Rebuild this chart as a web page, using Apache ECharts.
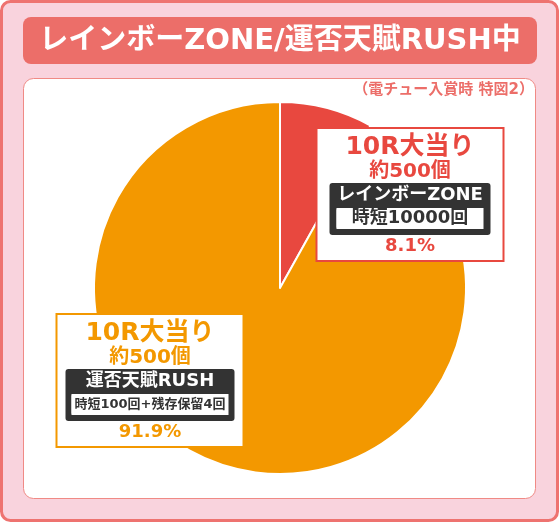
<!DOCTYPE html>
<html><head><meta charset="utf-8">
<script src="https://cdn.jsdelivr.net/npm/echarts@6/dist/echarts.min.js"></script>
<style>html,body{margin:0;padding:0;background:#fff}#c{width:560px;height:523px}</style>
</head><body><div id="c"></div>
<script>
// ---- data ----
const titleText = 'レインボーZONE/運否天賦RUSH中';
const subtitleText = '（電チュー入賞時 特図2）';
const categories = ['レインボーZONE', '運否天賦RUSH'];
const values = [8.1, 91.9];
const jackpotLabels = ['10R大当り', '10R大当り'];
const payoutLabels = ['約500個', '約500個'];
const timeLabels = ['時短10000回', '時短100回+残存保留4回'];
const colors = ['#E8483F', '#F39800'];

// ---- style / layout ----
const FONT = "'DejaVu Sans', 'Noto Sans CJK JP', sans-serif";
const DARK = '#333333';
const labelSpec = [
  { x: 410, y: 129, dark: 161, inner: 147, timeSize: 18, padX: 12 },
  { x: 150, y: 315, dark: 169, inner: 157, timeSize: 13, padX: 8 }
];

function richFor(i) {
  const s = labelSpec[i], c = colors[i];
  const side = (s.dark - s.inner) / 2;
  return {
    big: { fontFamily: FONT, fontWeight: 'bold', fontSize: 25, color: c, lineHeight: 28, align: 'center' },
    mid: { fontFamily: FONT, fontWeight: 'bold', fontSize: 20, color: c, lineHeight: 22, align: 'center' },
    head: { fontFamily: FONT, fontWeight: 'bold', fontSize: 18, color: '#fff', backgroundColor: DARK,
            width: s.dark, height: 25, lineHeight: 25, align: 'center', borderRadius: [3, 3, 0, 0] },
    side: { backgroundColor: DARK, width: side, height: 21, lineHeight: 21, align: 'center' },
    time: { fontFamily: FONT, fontWeight: 'bold', fontSize: s.timeSize, color: DARK, backgroundColor: '#fff',
            width: s.inner, height: 21, lineHeight: 21, align: 'center', borderRadius: 2 },
    foot: { backgroundColor: DARK, width: s.dark, height: 6, lineHeight: 6, align: 'center', borderRadius: [0, 0, 3, 3] },
    pct: { fontFamily: FONT, fontWeight: 'bold', fontSize: 18, color: c, lineHeight: 22, align: 'center' }
  };
}

const chart = echarts.init(document.getElementById('c'), null, { renderer: 'canvas' });
chart.setOption({
  animation: false,
  graphic: [
    { type: 'rect', z: -10, shape: { x: 1.5, y: 1.5, width: 556, height: 519, r: 9 },
      style: { fill: '#F9D3DD', stroke: '#EE7370', lineWidth: 3 } },
    { type: 'rect', z: -9, shape: { x: 23, y: 17, width: 514, height: 47, r: 8 },
      style: { fill: '#EC6E69' } },
    { type: 'rect', z: -9, shape: { x: 23.5, y: 78.5, width: 512, height: 420, r: 10 },
      style: { fill: '#fff', stroke: '#F08A85', lineWidth: 1 } },
    { type: 'text', z: -8, style: { x: 280, y: 41, text: titleText, fill: '#fff',
      font: "bold 29px " + FONT, align: 'center', verticalAlign: 'middle' } },
    { type: 'text', z: -8, style: { x: 534, y: 90, text: subtitleText, fill: '#EC6E69',
      font: "bold 15px " + FONT, align: 'right', verticalAlign: 'middle' } }
  ],
  series: [{
    type: 'pie',
    center: [280, 288],
    radius: 186,
    startAngle: 90,
    clockwise: true,
    silent: true,
    emphasis: { disabled: true },
    itemStyle: { borderColor: '#fff', borderWidth: 2 },
    label: { show: true, position: 'inside' },
    labelLine: { show: false },
    labelLayout: function (p) {
      const s = labelSpec[p.dataIndex];
      return { x: s.x, y: s.y, align: 'center', verticalAlign: 'top' };
    },
    data: categories.map((name, i) => ({
      name: name,
      value: values[i],
      itemStyle: { color: colors[i] },
      label: {
        formatter: (p) =>
          '{big|' + jackpotLabels[i] + '}\n{mid|' + payoutLabels[i] + '}\n{head|' + p.name +
          '}\n{side|}{time|' + timeLabels[i] + '}{side|}\n{foot|}\n{pct|' + values[i].toFixed(1) + '%}',
        backgroundColor: '#fff',
        borderColor: colors[i],
        borderWidth: 2,
        padding: [4, labelSpec[i].padX, 3, labelSpec[i].padX],
        align: 'center',
        rich: richFor(i)
      }
    }))
  }]
});
</script></body></html>
